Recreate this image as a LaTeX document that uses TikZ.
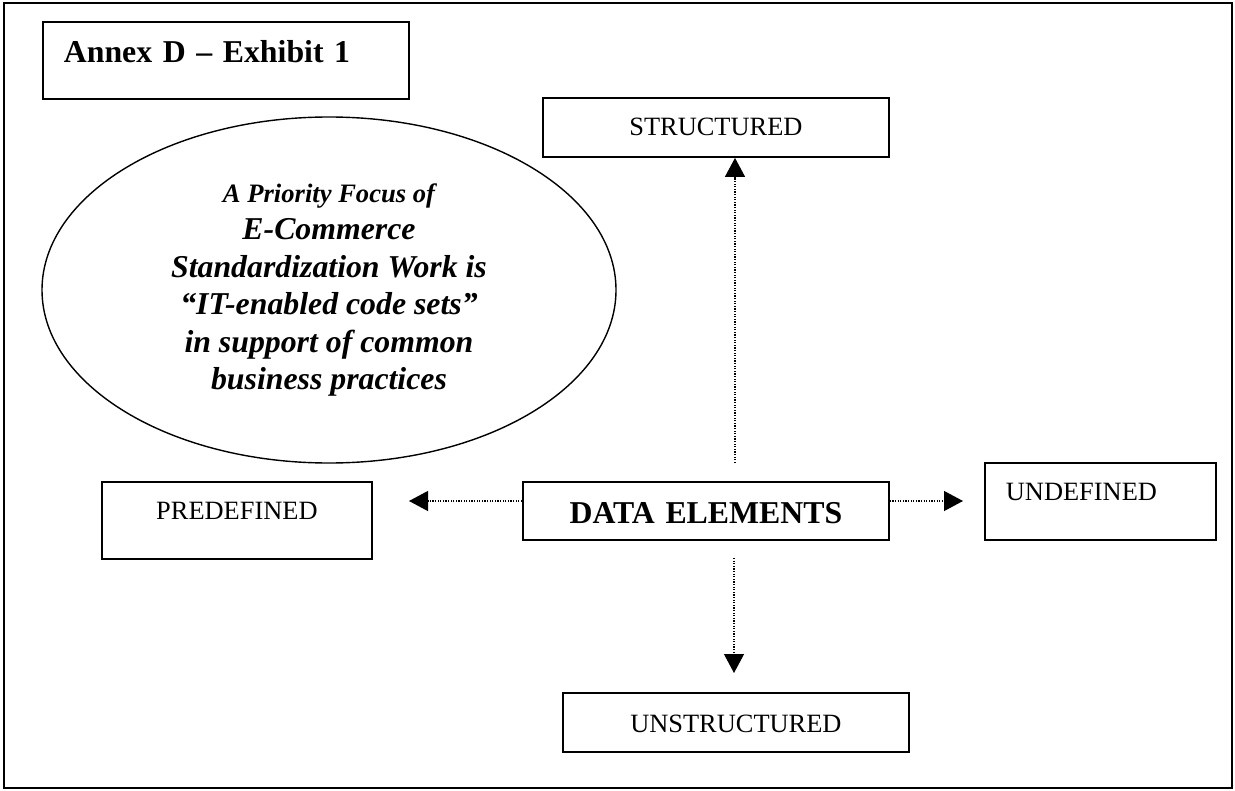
\documentclass[tikz,border=0pt]{standalone}
\usepackage{fontspec}
\setmainfont{Liberation Serif}
\usepackage{tikz}
\usetikzlibrary{arrows.meta}
\usetikzlibrary{shapes.geometric}

\begin{document}
\begin{tikzpicture}[x=0.5pt,y=-0.5pt,
    box/.style={draw,line width=0.9pt,inner sep=0pt,anchor=base west},
    link/.style={line width=0.6pt,dash pattern=on 0.6pt off 0.7pt,-{Triangle[length=9.5pt,width=10pt]}},
    plain/.style={font=\fontsize{13.2}{15}\selectfont},
    heavy/.style={font=\fontsize{15.9}{18}\selectfont\bfseries}]
  \useasboundingbox (0,0) rectangle (1235,791);
  \draw[line width=0.8pt] (4,3) rectangle (1232,788);
  % title and note
  \node[box,heavy,text width=162pt,inner xsep=10.5pt,align=left,text height=20.65pt,text depth=17.85pt] (annex) at (42,63) {Annex D – Exhibit 1};
  \node[draw,ellipse,line width=0.7pt,minimum width=287pt,minimum height=173pt,inner sep=0pt,align=center,
        font=\fontsize{15.9}{18.75}\selectfont\bfseries\itshape] (focus) at (329,290)
        {{\fontsize{13.3}{18.75}\selectfont A Priority Focus of}\\E-Commerce\\Standardization Work is\\“IT-enabled code sets”\\in support of common\\business practices};
  % boxes
  \node[box,plain,text width=173pt,align=center,text height=19pt,text depth=10.5pt] (str) at (542,136) {STRUCTURED};
  \node[box,heavy,text width=183pt,align=center,text height=20.5pt,text depth=8.5pt] (data) at (522,523) {DATA ELEMENTS};
  \node[box,plain,text width=135pt,align=center,text height=18.65pt,text depth=19.85pt] (pre) at (101,519) {PREDEFINED};
  \node[box,plain,text width=94.5pt,inner xsep=10.5pt,align=left,text height=18.5pt,text depth=20pt] (und) at (984,500) {UNDEFINED};
  \node[box,plain,text width=173pt,align=center,text height=19.35pt,text depth=10.15pt] (unstr) at (562,732) {UNSTRUCTURED};
  % arrows
  \coordinate (pretip) at (409,501);
  \coordinate (undtip) at (963,501);
  \coordinate (upfoot) at (735,463);
  \coordinate (downtop) at (734,558);
  \coordinate (downtip) at (734,673);
  \draw[link] (data.west |- pretip) -- (pretip);
  \draw[link] (data.east |- undtip) -- (undtip);
  \draw[link] (upfoot) -- (str.south -| upfoot);
  \draw[link] (downtop) -- (downtip);
\end{tikzpicture}
\end{document}
